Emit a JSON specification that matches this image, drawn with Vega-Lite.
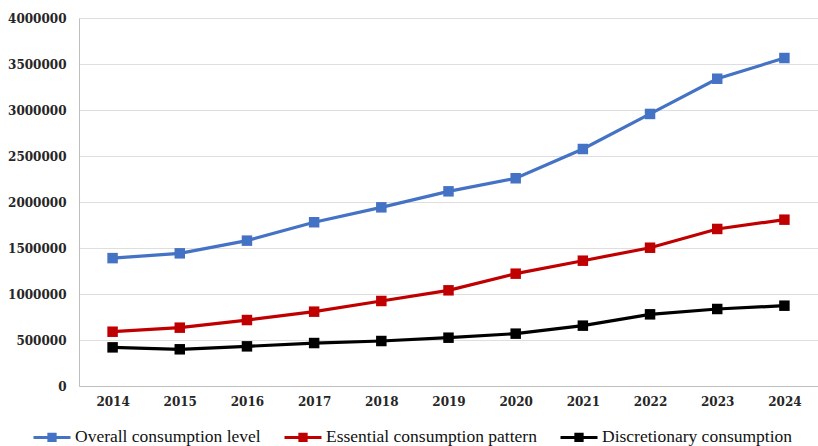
{
  "$schema": "https://vega.github.io/schema/vega-lite/v6.json",
  "width": 739,
  "height": 368,
  "autosize": "none",
  "padding": {"left": 79, "top": 18, "right": 0, "bottom": 60},
  "background": "white",
  "config": {
    "view": {"stroke": null},
    "axis": {"labelFont": "DejaVu Serif", "labelFontSize": 12, "labelFontWeight": "bold", "labelColor": "#262626", "ticks": false, "title": null}
  },
  "data": {
    "values": [
      {"year": "2014", "series": "Overall consumption level", "value": 1390000},
      {"year": "2015", "series": "Overall consumption level", "value": 1442000},
      {"year": "2016", "series": "Overall consumption level", "value": 1580000},
      {"year": "2017", "series": "Overall consumption level", "value": 1780000},
      {"year": "2018", "series": "Overall consumption level", "value": 1942000},
      {"year": "2019", "series": "Overall consumption level", "value": 2116000},
      {"year": "2020", "series": "Overall consumption level", "value": 2258000},
      {"year": "2021", "series": "Overall consumption level", "value": 2576000},
      {"year": "2022", "series": "Overall consumption level", "value": 2957000},
      {"year": "2023", "series": "Overall consumption level", "value": 3340000},
      {"year": "2024", "series": "Overall consumption level", "value": 3565000},
      {"year": "2014", "series": "Essential consumption pattern", "value": 590000},
      {"year": "2015", "series": "Essential consumption pattern", "value": 634000},
      {"year": "2016", "series": "Essential consumption pattern", "value": 717000},
      {"year": "2017", "series": "Essential consumption pattern", "value": 808000},
      {"year": "2018", "series": "Essential consumption pattern", "value": 924000},
      {"year": "2019", "series": "Essential consumption pattern", "value": 1040000},
      {"year": "2020", "series": "Essential consumption pattern", "value": 1221000},
      {"year": "2021", "series": "Essential consumption pattern", "value": 1362000},
      {"year": "2022", "series": "Essential consumption pattern", "value": 1503000},
      {"year": "2023", "series": "Essential consumption pattern", "value": 1707000},
      {"year": "2024", "series": "Essential consumption pattern", "value": 1808000},
      {"year": "2014", "series": "Discretionary consumption", "value": 420000},
      {"year": "2015", "series": "Discretionary consumption", "value": 399000},
      {"year": "2016", "series": "Discretionary consumption", "value": 431000},
      {"year": "2017", "series": "Discretionary consumption", "value": 467000},
      {"year": "2018", "series": "Discretionary consumption", "value": 489000},
      {"year": "2019", "series": "Discretionary consumption", "value": 525000},
      {"year": "2020", "series": "Discretionary consumption", "value": 569000},
      {"year": "2021", "series": "Discretionary consumption", "value": 656000},
      {"year": "2022", "series": "Discretionary consumption", "value": 779000},
      {"year": "2023", "series": "Discretionary consumption", "value": 837000},
      {"year": "2024", "series": "Discretionary consumption", "value": 873000}
    ]
  },
  "encoding": {
    "x": {
      "field": "year", "type": "ordinal",
      "scale": {"type": "point", "padding": 0.5},
      "axis": {"labelAngle": 0, "domainColor": "#bfbfbf", "domainWidth": 1, "labelPadding": 10, "grid": false}
    },
    "y": {
      "field": "value", "type": "quantitative",
      "scale": {"domain": [0, 4000000], "nice": false},
      "axis": {"values": [0, 500000, 1000000, 1500000, 2000000, 2500000, 3000000, 3500000, 4000000], "format": "d", "labelPadding": 13, "domainColor": "#bfbfbf", "gridColor": "#dedede", "gridWidth": 1}
    },
    "color": {
      "field": "series", "type": "nominal",
      "scale": {
        "domain": ["Overall consumption level", "Essential consumption pattern", "Discretionary consumption"],
        "range": ["#4472C4", "#C00000", "#000000"]
      },
      "legend": {
        "title": null,
        "orient": "none",
        "direction": "horizontal",
        "legendX": -47,
        "legendY": 399,
        "padding": 0,
        "symbolType": "M-1,0H1M-0.17,-0.17H0.17V0.17H-0.17Z",
        "symbolSize": 1369,
        "symbolStrokeWidth": 3,
        "labelOffset": 3,
        "labelFont": "Liberation Serif",
        "labelFontSize": 17.5,
        "labelLimit": 400,
        "labelColor": "#111111",
        "columnPadding": 17,
        "encode": {
          "symbols": {
            "update": {
              "fill": {"scale": "color", "field": "value"},
              "stroke": {"scale": "color", "field": "value"},
              "opacity": {"value": 1}
            }
          }
        }
      }
    }
  },
  "layer": [
    {"mark": {"type": "line", "strokeWidth": 3.2}},
    {"mark": {"type": "point", "shape": "square", "filled": true, "size": 110, "opacity": 1}}
  ]
}
